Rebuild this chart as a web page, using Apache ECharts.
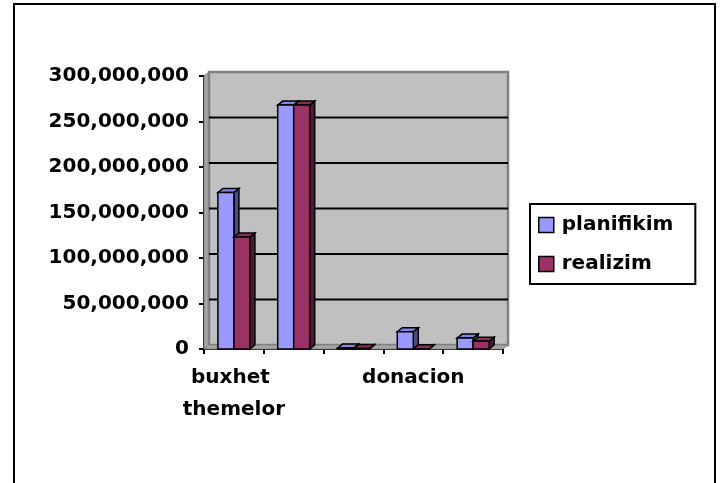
<!DOCTYPE html>
<html>
<head>
<meta charset="utf-8">
<script src="https://cdn.jsdelivr.net/npm/echarts@6/dist/echarts.min.js"></script>
<style>
  html, body { margin: 0; padding: 0; background: #fff; }
  #chart { width: 722px; height: 483px; }
</style>
</head>
<body>
<div id="chart"></div>
<script>
// data
var categories = ["buxhet themelor", "te ardhura", "hua", "donacion", "te tjera"];
var planifikim = [172000000, 268000000, 1000000, 19000000, 12000000];
var realizim = [123000000, 268000000, 500000, 300000, 8500000];
var yTicks = [0, 50000000, 100000000, 150000000, 200000000, 250000000, 300000000];

var FONT = "DejaVu Sans";
var DX = 5, DY = -4; // depth of the fake 3d
var BAR_W = 16;

function shade(type) {
  return type === 0
    ? { front: "#9999FF", top: "#8585E0", side: "#4D4D80" }
    : { front: "#993366", top: "#862D59", side: "#4D1A33" };
}

// one 3d box per data point, through the axis scales
function barRender(si) {
  return function (params, api) {
    var c = api.value(0);
    var v = api.value(1);
    var top = api.coord([c, v]);
    var base = api.coord([c, 0]);
    var x0 = si === 0 ? top[0] - BAR_W : top[0];
    var x1 = x0 + BAR_W;
    var y0 = top[1], y1 = base[1];
    var col = shade(si);
    var ls = { stroke: "#000", lineWidth: 1.5 };
    return {
      type: "group",
      children: [
        { type: "polygon", shape: { points: [[x1, y0], [x1 + DX, y0 + DY], [x1 + DX, y1 + DY], [x1, y1]] },
          style: Object.assign({ fill: col.side }, ls) },
        { type: "polygon", shape: { points: [[x0, y0], [x0 + DX, y0 + DY], [x1 + DX, y0 + DY], [x1, y0]] },
          style: Object.assign({ fill: col.top }, ls) },
        { type: "rect", shape: { x: x0, y: y0, width: BAR_W, height: y1 - y0 },
          style: Object.assign({ fill: col.front }, ls) }
      ]
    };
  };
}

// back wall, side wall, floor and gridlines
function wallRender(params, api) {
  var cs = params.coordSys;
  var x = cs.x, y = cs.y, w = cs.width, h = cs.height;
  var kids = [
    { type: "polygon", shape: { points: [[x, y], [x + DX, y + DY], [x + DX, y + h + DY], [x, y + h]] },
      style: { fill: "#A6A6A6", stroke: "#808080", lineWidth: 1 } },
    { type: "rect", shape: { x: x + DX, y: y + DY, width: w, height: h },
      style: { fill: "#C0C0C0", stroke: "#808080", lineWidth: 2.5 } },
    { type: "polygon", shape: { points: [[x, y + h], [x + DX, y + h + DY], [x + w + DX, y + h + DY], [x + w, y + h]] },
      style: { fill: "#A6A6A6", stroke: "#808080", lineWidth: 1 } }
  ];
  for (var i = 1; i < yTicks.length - 1; i++) {
    var p = api.coord([0, yTicks[i]]);
    kids.push({ type: "line", shape: { x1: x + DX, y1: p[1] + DY, x2: x + w + DX, y2: p[1] + DY },
      style: { stroke: "#000", lineWidth: 2 } });
  }
  return { type: "group", children: kids };
}

var chart = echarts.init(document.getElementById("chart"));
chart.setOption({
  animation: false,
  backgroundColor: "#fff",
  textStyle: { fontFamily: FONT },
  graphic: [{
    type: "rect",
    shape: { x: 14, y: 4, width: 701, height: 490 },
    style: { fill: "none", stroke: "#000", lineWidth: 2 },
    silent: true
  }],
  grid: { left: 204, right: 219, top: 76, bottom: 134 },
  legend: {
    orient: "vertical",
    left: 530,
    top: 204,
    data: ["planifikim", "realizim"],
    icon: "rect",
    padding: [10, 22, 9, 8],
    itemWidth: 15,
    itemHeight: 15,
    itemGap: 17,
    borderColor: "#000",
    borderWidth: 2,
    itemStyle: { borderColor: "#000", borderWidth: 1.5 },
    textStyle: { fontFamily: FONT, fontWeight: "bold", fontSize: 20, color: "#000", lineHeight: 22, padding: [0, 0, 0, 3] }
  },
  xAxis: {
    type: "category",
    data: categories,
    boundaryGap: true,
    axisLine: { lineStyle: { color: "#000", width: 2 } },
    axisTick: { show: true, interval: 0, length: 5, lineStyle: { color: "#000", width: 2 } },
    axisLabel: {
      interval: 2,
      margin: 13,
      width: 110,
      overflow: "break",
      lineHeight: 32,
      color: "#000",
      fontFamily: FONT,
      fontWeight: "bold",
      fontSize: 20
    },
    splitLine: { show: false }
  },
  yAxis: {
    type: "value",
    min: 0,
    max: 300000000,
    interval: 50000000,
    axisLine: { show: true, lineStyle: { color: "#000", width: 2 } },
    axisTick: { show: true, length: 5, lineStyle: { color: "#000", width: 2 } },
    axisLabel: {
      margin: 15,
      color: "#000",
      fontFamily: FONT,
      fontWeight: "bold",
      fontSize: 20,
      formatter: function (v) { return v.toLocaleString("en-US"); }
    },
    splitLine: { show: false }
  },
  series: [
    {
      name: "wall",
      type: "custom",
      renderItem: wallRender,
      data: [[0, 0]],
      z: 1,
      silent: true
    },
    {
      name: "planifikim",
      type: "custom",
      itemStyle: { color: "#9999FF" },
      renderItem: barRender(0),
      encode: { x: 0, y: 1 },
      data: planifikim.map(function (v, i) { return [i, v]; }),
      z: 3
    },
    {
      name: "realizim",
      type: "custom",
      itemStyle: { color: "#993366" },
      renderItem: barRender(1),
      encode: { x: 0, y: 1 },
      data: realizim.map(function (v, i) { return [i, v]; }),
      z: 3
    }
  ]
});
</script>
</body>
</html>
